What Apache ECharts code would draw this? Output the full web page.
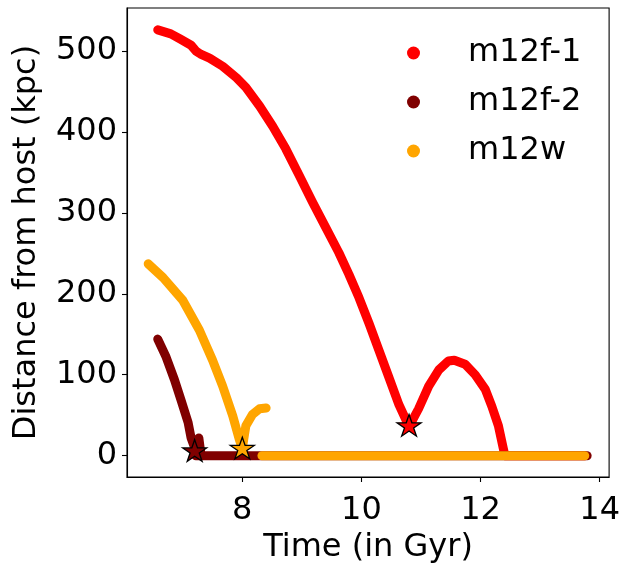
<!DOCTYPE html>
<html>
<head>
<meta charset="utf-8">
<script src="https://cdn.jsdelivr.net/npm/echarts@6/dist/echarts.min.js"></script>
<style>
html,body{margin:0;padding:0;background:#fff;}
#chart{width:623px;height:569px;}
</style>
</head>
<body>
<div id="chart"></div>
<script>
// ---- data ----
const seriesNames = ['m12f-1', 'm12f-2', 'm12w'];
const seriesColors = ['#ff0000', '#800000', '#ffa500'];
const xTicks = [8, 10, 12, 14];
const yTicks = [0, 100, 200, 300, 400, 500];

const m12f1 = [[6.58,526],[6.80,521],[6.95,515],[7.14,507],[7.22,500],[7.30,496],[7.45,491],[7.67,481],[7.90,467],[8.06,455],
  [8.29,432],[8.51,407],[8.73,379],[8.95,347],[9.18,313],[9.40,282],[9.62,251],[9.79,224],[9.96,195],
  [10.13,163],[10.29,131],[10.46,97],[10.63,63],[10.80,36],[10.96,58],[11.13,86],[11.30,106],[11.46,117],
  [11.56,118],[11.74,113],[11.91,100],[12.08,82],[12.19,61],[12.30,37],[12.385,8],[12.41,0],[13.75,0]];
const m12f2Orbit = [[6.58,144],[6.72,122],[6.86,94],[6.97,69],[7.09,41],[7.14,22],[7.20,10],[7.27,22],[7.30,5]];
const m12f2Merged = [[7.22,0],[13.79,0]];
const m12wOrbit = [[6.42,237],[6.67,220],[7.00,192],[7.28,155],[7.50,118],[7.67,86],[7.84,49],[7.95,20],
  [8.00,9],[8.06,37],[8.17,51],[8.29,58],[8.40,59]];
const m12wMerged = [[8.33,0],[13.75,0]];
const starPoints = [[10.80,36],[7.20,5],[8.00,8]]; // m12f-1, m12f-2, m12w

// ---- chart ----
const FONT = 'DejaVu Sans';
const FS = 32;
const STAR = 'path://M0,-10 L2.245,-3.09 L9.511,-3.09 L3.633,1.18 L5.878,8.09 L0,3.82 L-5.878,8.09 L-3.633,1.18 L-9.511,-3.09 L-2.245,-3.09 Z';

function lineSeries(name, color, data) {
  return {
    name: name, type: 'line', data: data, showSymbol: false, symbol: 'circle',
    smooth: false, silent: true,
    lineStyle: {color: color, width: 9, cap: 'round', join: 'round'},
    itemStyle: {color: color},
    animation: false
  };
}

const chart = echarts.init(document.getElementById('chart'), null, {renderer: 'canvas'});
chart.setOption({
  animation: false,
  backgroundColor: '#ffffff',
  textStyle: {fontFamily: FONT},
  grid: {left: 127, top: 8, width: 484, height: 473, show: true, borderColor: '#000', borderWidth: 1.1, containLabel: false},
  legend: {
    orient: 'vertical', left: 402, top: 32, itemGap: 17,
    itemWidth: 13, itemHeight: 13,
    data: seriesNames.map(n => ({name: n, icon: 'circle'})),
    textStyle: {fontFamily: FONT, fontSize: FS, color: '#000', lineHeight: 31, padding: [0,0,0,43]}
  },
  xAxis: {
    type: 'value', min: 6.064, max: 14.159,
    name: 'Time (in Gyr)', nameLocation: 'middle', nameGap: 55,
    nameTextStyle: {fontFamily: FONT, fontSize: FS, color: '#000'},
    splitLine: {show: false},
    axisLine: {show: true, onZero: false, lineStyle: {color: '#000', width: 1.1}},
    axisTick: {show: true, length: 5, lineStyle: {color: '#000', width: 1.1}, customValues: xTicks},
    axisLabel: {fontFamily: FONT, fontSize: FS, color: '#000', margin: 18, customValues: xTicks}
  },
  yAxis: {
    type: 'value', min: -26.3, max: 553,
    name: 'Distance from host (kpc)', nameLocation: 'middle', nameGap: 84,
    nameTextStyle: {fontFamily: FONT, fontSize: FS, color: '#000'},
    splitLine: {show: false},
    axisLine: {show: true, onZero: false, lineStyle: {color: '#000', width: 1.1}},
    axisTick: {show: true, length: 5, lineStyle: {color: '#000', width: 1.1}, customValues: yTicks},
    axisLabel: {fontFamily: FONT, fontSize: FS, color: '#000', margin: 10, customValues: yTicks}
  },
  series: [
    lineSeries(seriesNames[0], seriesColors[0], m12f1),
    lineSeries(seriesNames[1], seriesColors[1], m12f2Orbit),
    lineSeries(seriesNames[1], seriesColors[1], m12f2Merged),
    lineSeries(seriesNames[2], seriesColors[2], m12wOrbit),
    lineSeries(seriesNames[2], seriesColors[2], m12wMerged),
    {
      type: 'scatter', silent: true, z: 5,
      symbol: STAR, symbolSize: [24, 22.8], symbolKeepAspect: true, symbolOffset: [0, -1.2],
      data: starPoints.map((p, i) => ({value: p, itemStyle: {color: seriesColors[i]}})),
      itemStyle: {borderColor: '#000', borderWidth: 1.3, opacity: 1}
    }
  ]
});
</script>
</body>
</html>
